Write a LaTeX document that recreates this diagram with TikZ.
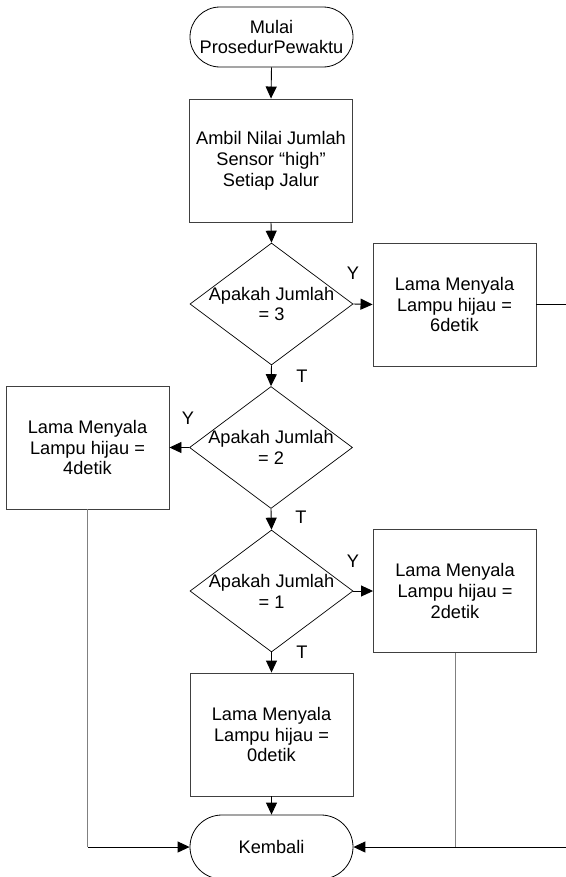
\documentclass[tikz,border=0pt]{standalone}
\usepackage{fontspec}
\setmainfont{Liberation Sans}
\usetikzlibrary{shapes.geometric,arrows.meta}
\begin{document}
\begin{tikzpicture}[x=1bp,y=-1bp,
  every node/.style={font=\fontsize{18.2bp}{20.8bp}\selectfont, align=center, inner sep=0pt},
  term/.style={draw=black, line width=0.8bp, rounded corners=30bp, minimum width=163bp, minimum height=60bp},
  proc/.style={draw=black!75, line width=0.9bp, minimum width=163bp, minimum height=123bp},
  dia/.style={draw=black, line width=0.7bp, diamond, minimum width=163bp, minimum height=122bp},
  flow/.style={line width=0.9bp, -{Triangle[length=12bp,width=11bp]}},
  gline/.style={draw=black!50, line width=1bp},
  lbl/.style={font=\fontsize{18.2bp}{20.8bp}\selectfont}
]
\useasboundingbox (0,0) rectangle (566,877);

% nodes
\node[term] (start) at (271.5,37) {Mulai\\ProsedurPewaktu};
\node[proc] (b1) at (271,160.5) {Ambil Nilai Jumlah\\Sensor “high”\\Setiap Jalur};
\node[dia] (d1) at (271.5,304) {};
\node (d1t) at (d1) {Apakah Jumlah\\= 3};
\node[proc] (b6) at (454.5,304.5) {Lama Menyala\\Lampu hijau =\\6detik};
\node[dia] (d2) at (271,447.5) {};
\node (d2t) at (d2) {Apakah Jumlah\\= 2};
\node[proc] (b4) at (87.5,447.5) {Lama Menyala\\Lampu hijau =\\4detik};
\node[dia] (d3) at (271.5,591) {};
\node (d3t) at (d3) {Apakah Jumlah\\= 1};
\node[proc] (b2) at (455,591) {Lama Menyala\\Lampu hijau =\\2detik};
\node[proc] (b0) at (271.5,734.5) {Lama Menyala\\Lampu hijau =\\0detik};
\node[term, minimum height=64bp, rounded corners=32bp] (end) at (271.5,847) {Kembali};

% branch labels
\node[lbl] (y1) at (353,273) {Y};
\node[lbl] (t1) at (302,376) {T};
\node[lbl] (y2) at (188,418) {Y};
\node[lbl] (t2) at (301,517) {T};
\node[lbl] (y3) at (353,561) {Y};
\node[lbl] (t3) at (302,652) {T};

% main flow
\draw[flow] (start.south) -- (b1.north);
\draw[flow] (b1.south) -- (d1.north);
\draw[flow] (d1.east) -- (b6.west);
\draw[flow] (d1.south) -- (d2.north);
\draw[flow] (d2.west) -- (b4.east);
\draw[flow] (d2.south) -- (d3.north);
\draw[flow] (d3.east) -- (b2.west);
\draw[flow] (d3.south) -- (b0.north);
\draw[flow] (b0.south) -- (end.north);

% return paths
\coordinate (rEdgeTop) at (566,304.5);
\coordinate (rEdgeBot) at (566,847);
\coordinate (lCorner) at (b4.south |- end.west);
\coordinate (rCorner) at (b2.south |- end.east);
\draw[line width=0.9bp] (b6.east) -- (rEdgeTop);
\draw[gline] (b4.south) -- (lCorner);
\draw[flow] (lCorner) -- (end.west);
\draw[gline] (b2.south) -- (rCorner);
\draw[flow] (rEdgeBot) -- (end.east);
\end{tikzpicture}
\end{document}
